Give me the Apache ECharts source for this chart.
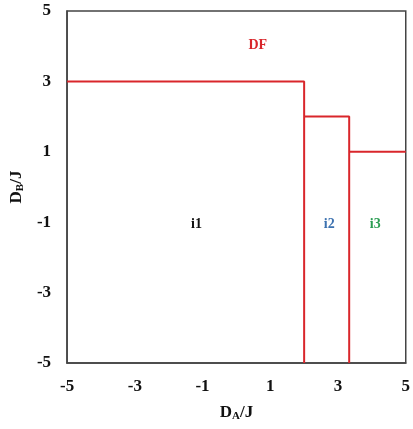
<!DOCTYPE html>
<html><head><meta charset="utf-8">
<script src="https://cdn.jsdelivr.net/npm/echarts@6/dist/echarts.min.js"></script>
<style>html,body{margin:0;padding:0;background:#fff}#c{width:413px;height:429px}</style>
</head><body><div id="c"></div>
<script>
// boundary segments (x, y pairs)
const boundary1X = [-5, 2, 2];
const boundary1Y = [3, 3, -5];
const boundary2X = [2, 3.33, 3.33];
const boundary2Y = [2, 2, -5];
const boundary3X = [3.33, 5];
const boundary3Y = [1, 1];
// region labels
const regionNames = ['DF', 'i1', 'i2', 'i3'];
const regionX = [0.63, -1.18, 2.74, 4.1];
const regionY = [4.03, -1.05, -1.05, -1.05];
const regionColors = ['#d9262b', '#111111', '#3d72b0', '#2a9d52'];
const tickValues = [-5, -3, -1, 1, 3, 5];

const zip = (a, b) => a.map((v, i) => [v, b[i]]);
const font = 'Liberation Serif';
const chart = echarts.init(document.getElementById('c'));
const lineStyle = {color: '#d9262b', width: 2};
chart.setOption({
  animation: false,
  grid: {left: 66, right: 4, top: 11, bottom: 66, show: true, borderColor: '#444', borderWidth: 1.5},
  xAxis: {
    type: 'value', min: -5, max: 5, interval: 2,
    axisLine: {show: true, onZero: false, lineStyle: {color: '#444', width: 1.5}},
    axisTick: {show: false}, splitLine: {show: false},
    axisLabel: {fontFamily: font, fontWeight: 'bold', fontSize: 17, color: '#111', margin: 15},
    name: '{m|D}{s|A}{m|/J}', nameLocation: 'middle', nameGap: 40,
    nameTextStyle: {rich: {
      m: {fontFamily: font, fontWeight: 'bold', fontSize: 17, color: '#111'},
      s: {fontFamily: font, fontWeight: 'bold', fontSize: 11, color: '#111', verticalAlign: 'bottom', padding: [8, 0, 0, 0]}
    }}
  },
  yAxis: {
    type: 'value', min: -5, max: 5, interval: 2,
    axisLine: {show: true, onZero: false, lineStyle: {color: '#444', width: 1.5}},
    axisTick: {show: false}, splitLine: {show: false},
    axisLabel: {fontFamily: font, fontWeight: 'bold', fontSize: 17, color: '#111', margin: 16},
    name: '{m|D}{s|B}{m|/J}', nameLocation: 'middle', nameGap: 35,
    nameTextStyle: {rich: {
      m: {fontFamily: font, fontWeight: 'bold', fontSize: 17, color: '#111'},
      s: {fontFamily: font, fontWeight: 'bold', fontSize: 11, color: '#111', verticalAlign: 'bottom', padding: [8, 0, 0, 0]}
    }}
  },
  series: [
    {type: 'line', data: zip(boundary1X, boundary1Y), symbol: 'none', lineStyle},
    {type: 'line', data: zip(boundary2X, boundary2Y), symbol: 'none', lineStyle},
    {type: 'line', data: zip(boundary3X, boundary3Y), symbol: 'none', lineStyle},
    {type: 'scatter', symbolSize: 0, itemStyle: {opacity: 1},
      data: regionNames.map((n, i) => ({value: [regionX[i], regionY[i]], name: n,
        label: {show: true, position: 'inside', formatter: n, color: regionColors[i], opacity: 1,
          fontFamily: font, fontWeight: 'bold', fontSize: 14}}))}
  ]
});
</script></body></html>
